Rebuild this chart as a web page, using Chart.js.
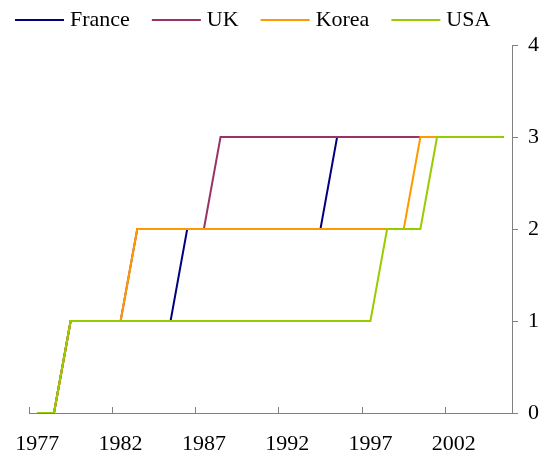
<!DOCTYPE html>
<html>
<head>
<meta charset="utf-8">
<script src="https://cdn.jsdelivr.net/npm/chart.js@4/dist/chart.umd.min.js"></script>
<style>
  html, body { margin: 0; padding: 0; background: #fff; }
  #wrap { width: 543px; height: 459px; }
</style>
</head>
<body>
<div id="wrap"><canvas id="chart"></canvas></div>
<script>
const years = ['1977', '1978', '1979', '1980', '1981', '1982', '1983', '1984', '1985', '1986',
  '1987', '1988', '1989', '1990', '1991', '1992', '1993', '1994', '1995', '1996',
  '1997', '1998', '1999', '2000', '2001', '2002', '2003', '2004', '2005']

const france = [0, 0, 1, 1, 1, 1, 1, 1, 1, 2, 2, 2, 2, 2, 2, 2, 2, 2, 3, 3, 3, 3, 3, 3, 3, 3, 3, 3, 3]
const uk = [0, 0, 1, 1, 1, 1, 2, 2, 2, 2, 2, 3, 3, 3, 3, 3, 3, 3, 3, 3, 3, 3, 3, 3, 3, 3, 3, 3, 3]
const korea = [0, 0, 1, 1, 1, 1, 2, 2, 2, 2, 2, 2, 2, 2, 2, 2, 2, 2, 2, 2, 2, 2, 2, 3, 3, 3, 3, 3, 3]
const usa = [0, 0, 1, 1, 1, 1, 1, 1, 1, 1, 1, 1, 1, 1, 1, 1, 1, 1, 1, 1, 1, 2, 2, 2, 3, 3, 3, 3, 3]

const FONT = '"Liberation Serif", "Times New Roman", serif'
const AXIS = '#808080'

Chart.defaults.font.family = FONT
Chart.defaults.font.size = 22
Chart.defaults.color = '#000'

const series = (label, data, color, order) => ({
  label,
  data,
  borderColor: color,
  backgroundColor: color,
  borderWidth: 2,
  pointRadius: 0,
  tension: 0,
  order, // France underneath, USA on top
})

// Excel-style legend: short line then the label, in one row
const lineLegend = {
  id: 'lineLegend',
  afterDraw (chart) {
    const { ctx } = chart
    ctx.save()
    ctx.font = '22px ' + FONT
    ctx.textBaseline = 'middle'
    let x = 15
    const y = 20
    chart.data.datasets.forEach(ds => {
      ctx.strokeStyle = ds.borderColor
      ctx.lineWidth = 2
      ctx.beginPath()
      ctx.moveTo(x, y)
      ctx.lineTo(x + 49, y)
      ctx.stroke()
      ctx.fillStyle = '#000'
      ctx.fillText(ds.label, x + 55, y)
      x += 55 + ctx.measureText(ds.label).width + 22
    })
    ctx.restore()
  },
}

new Chart(document.getElementById('chart'), {
  type: 'line',
  data: {
    labels: years,
    datasets: [
      series('France', france, '#000080', 4),
      series('UK', uk, '#993366', 3),
      series('Korea', korea, '#FF9900', 2),
      series('USA', usa, '#99CC00', 1),
    ],
  },
  options: {
    responsive: true,
    maintainAspectRatio: false,
    animation: false,
    layout: { padding: { top: 45, left: 29, right: 4, bottom: 2 } },
    plugins: { legend: { display: false }, tooltip: { enabled: false } },
    scales: {
      x: {
        type: 'category',
        offset: true,
        border: { color: AXIS, width: 1 },
        grid: {
          offset: true,
          drawOnChartArea: false,
          tickLength: -6, // tick marks point into the plot
          color: (c) => (c.index % 5 === 0 ? AXIS : 'rgba(0,0,0,0)'),
        },
        ticks: {
          autoSkip: false,
          maxRotation: 0,
          padding: 24,
          callback: (v, i) => (i % 5 === 0 ? years[i] : ''),
        },
        afterFit: (s) => {
          s.height = 44
          s.paddingLeft = 0 // labels sit inside the category bands
          s.paddingRight = 0
        },
      },
      y: {
        position: 'right',
        min: 0,
        max: 4,
        border: { color: AXIS, width: 1 },
        grid: { drawOnChartArea: false, tickLength: 6, color: AXIS },
        ticks: { stepSize: 1, padding: 10 },
        afterFit: (s) => { s.width = 27 },
      },
    },
  },
  plugins: [lineLegend],
})
</script>
</body>
</html>
